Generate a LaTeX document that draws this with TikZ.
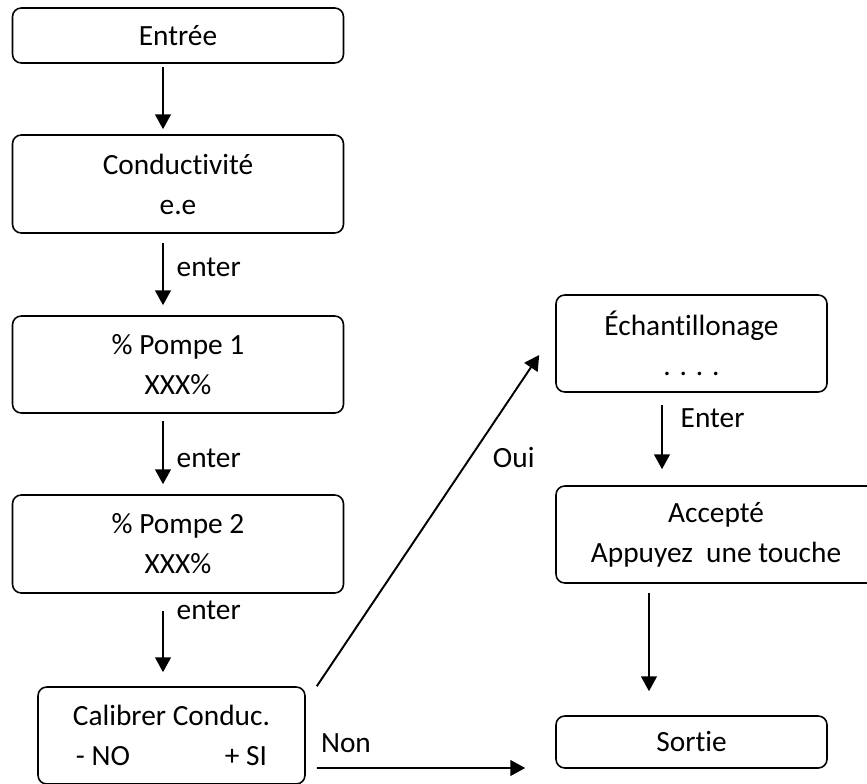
\documentclass[tikz,border=0pt]{standalone}
\usepackage{fontspec}
\setmainfont{Carlito}[RawFeature={-liga;-clig;-calt;-dlig}]
\usepackage{tikz}
\usetikzlibrary{arrows.meta,positioning}

\begin{document}
\begin{tikzpicture}[font=\fontsize{16.7}{22.8}\selectfont,
  box/.style={draw, rounded corners=5pt, align=center, line width=0.9pt, inner sep=0pt},
  line/.style={-{Triangle[length=8.5pt,width=9pt]}, line width=1.1pt},
  lab/.style={inner sep=1pt}]

\useasboundingbox (0,0) rectangle (17.34,15.66);
\clip (0,0) rectangle (17.34,15.66);

\node[box, minimum width=6.62cm, minimum height=1.1cm] (entree) at (3.56,14.95) {Entrée};
\node[box, minimum width=6.62cm, minimum height=1.96cm] (cond) at (3.56,11.98) {Conductivité\\e.e};
\node[box, minimum width=6.62cm, minimum height=1.94cm] (pompeA) at (3.56,8.37) {\% Pompe 1\\XXX\%};
\node[box, minimum width=6.62cm, minimum height=1.96cm] (pompeB) at (3.56,4.78) {\% Pompe 2\\XXX\%};
\node[box, minimum width=5.34cm, minimum height=1.94cm] (calib) at (3.43,0.95) {Calibrer Conduc.\\- NO\hspace{1.9cm}+ SI};

\node[box, minimum width=5.42cm, minimum height=1.94cm] (echant) at (13.83,8.79) {Échantillonage\\. . . .};
\node[box, minimum width=6.4cm, minimum height=1.94cm] (accepte) at (14.32,4.97) {Accepté\\Appuyez~ une touche};
\node[box, minimum width=5.42cm, minimum height=1.04cm] (sortie) at (13.83,0.82) {Sortie};

\draw[line, shorten <=0.06cm, shorten >=0.1cm] ([xshift=-3mm]entree.south) -- ([xshift=-3mm]cond.north);
\draw[line, shorten <=0.18cm, shorten >=0.2cm] ([xshift=-3mm]cond.south) -- ([xshift=-3mm]pompeA.north)
  node[pos=0.41, right=0.22cm, lab] {enter};
\draw[line, shorten <=0.14cm, shorten >=0.2cm] ([xshift=-3mm]pompeA.south) -- ([xshift=-3mm]pompeB.north)
  node[pos=0.55, right=0.22cm, lab] {enter};
\draw[line, shorten <=0.34cm, shorten >=0.28cm] ([xshift=-3mm]pompeB.south) -- ([xshift=-3mm]pompeB.south |- calib.north)
  node[pos=0.18, right=0.22cm, lab] {enter};

\draw[line] ([xshift=2.2mm]calib.north east) -- ([xshift=-3.2mm,yshift=-2.3mm]echant.west)
  node[pos=0.69, right=0.4cm, lab] {Oui};
\draw[line] ([xshift=2.2mm,yshift=-6.5mm]calib.east) -- ([xshift=-6mm,yshift=-5.2mm]sortie.west)
  node[pos=0.14, above=0.26cm, lab] {Non};

\draw[line, shorten <=0.24cm, shorten >=0.32cm] ([xshift=-5.9mm]echant.south) -- ([xshift=-5.9mm]echant.south |- accepte.north)
  node[pos=0.28, right=0.32cm, lab] {Enter};
\draw[line, shorten <=0.18cm, shorten >=0.48cm] ([xshift=-13.4mm]accepte.south) -- ([xshift=-13.4mm]accepte.south |- sortie.north);
\end{tikzpicture}
\end{document}
